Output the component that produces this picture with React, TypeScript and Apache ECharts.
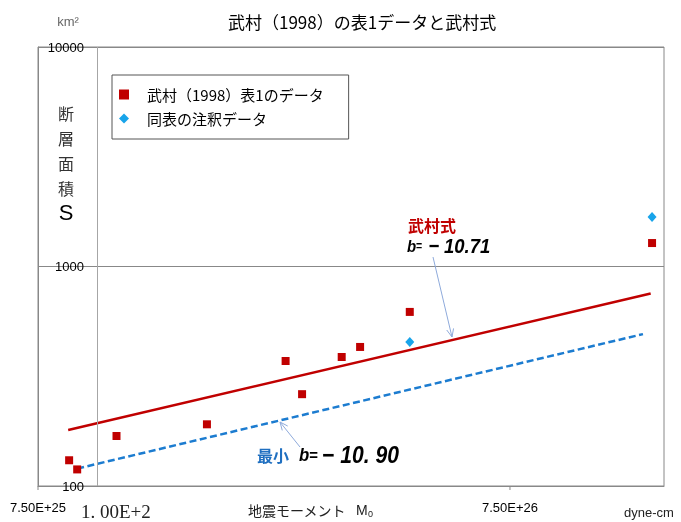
import React, { useEffect, useRef } from 'react';
import * as echarts from 'echarts';

// ---- data ----
const seriesNames = ['武村（1998）表1のデータ', '同表の注釈データ'];
const tableM0 = [8.73e25, 9.08e25, 1.1e26, 1.71e26, 2.51e26, 2.72e26, 3.3e26, 3.61e26, 4.6e26, 1.5e27];
const tableS = [131, 119, 169, 191, 371, 262, 387, 430, 621, 1279];
const noteM0 = [4.6e26, 1.5e27];
const noteS = [453, 1681];
const takemuraM0 = [8.69e25, 1.49e27];
const takemuraS = [180, 753];
const minimumM0 = [9.08e25, 1.435e27];
const minimumS = [120, 492];
const xMin = 7.5e25;
const xMax = 1.59e27;
const yMin = 100;
const yMax = 10000;
const xTickValues = [7.5e25, 7.5e26];
const xTickLabels = ['7.50E+25', '7.50E+26'];
const xGridValues = [1e26];

const jp = "'Noto Sans CJK JP', 'Noto Sans', sans-serif";
const sans = "'Liberation Sans', Arial, sans-serif";

function arrow(x1: number, y1: number, x2: number, y2: number, color: string) {
  const dx = x2 - x1;
  const dy = y2 - y1;
  const len = Math.sqrt(dx * dx + dy * dy);
  const ux = dx / len;
  const uy = dy / len;
  const nx = -uy;
  const ny = ux;
  const L = 8;
  const W = 3.5;
  const bx = x2 - ux * L;
  const by = y2 - uy * L;
  return [
    { type: 'line', silent: true, shape: { x1, y1, x2, y2 }, style: { stroke: color, lineWidth: 1 } },
    {
      type: 'polyline',
      silent: true,
      shape: { points: [[bx + nx * W, by + ny * W], [x2, y2], [bx - nx * W, by - ny * W]] },
      style: { stroke: color, lineWidth: 1, fill: 'none' },
    },
  ];
}

function txt(x: number, y: number, text: string, s: any) {
  return {
    type: 'text',
    x,
    y,
    silent: true,
    style: {
      text,
      fill: '#000',
      align: s.align || 'left',
      textAlign: s.align || 'left',
      verticalAlign: 'middle',
      textVerticalAlign: 'middle',
      ...s,
    },
  };
}

function formula(x: number, y: number, text: string, bSize: number, eSize: number, nSize: number, sx: number) {
  return {
    type: 'text',
    x,
    y,
    scaleX: sx,
    silent: true,
    style: {
      text,
      verticalAlign: 'middle',
      textVerticalAlign: 'middle',
      rich: {
        b: { fontSize: bSize, fontWeight: 'bold', fontStyle: 'italic', fontFamily: sans, fill: '#000', color: '#000' },
        e: { fontSize: eSize, fontWeight: 'bold', fontFamily: sans, fill: '#000', color: '#000' },
        n: { fontSize: nSize, fontWeight: 'bold', fontStyle: 'italic', fontFamily: sans, fill: '#000', color: '#000' },
      },
    },
  };
}

export default function App() {
  const ref = useRef<HTMLDivElement>(null);
  useEffect(() => {
    if (!ref.current) return;
    const chart = echarts.init(ref.current, null, { renderer: 'svg' });
    const option: any = {
      animation: false,
      textStyle: { fontFamily: jp },
      title: {
        text: '武村（1998）の表1データと武村式',
        left: 228,
        top: 13,
        padding: 0,
        textStyle: { fontSize: 17, fontWeight: 'normal', color: '#000', fontFamily: jp },
      },
      legend: {
        orient: 'vertical',
        left: 112,
        top: 75,
        selectedMode: false,
        backgroundColor: '#fff',
        borderColor: '#555',
        borderWidth: 1,
        padding: [12, 25, 13, 7],
        itemWidth: 10,
        itemHeight: 10,
        itemGap: 9,
        textStyle: { fontSize: 15, lineHeight: 14, color: '#000', fontFamily: jp, padding: [0, 0, 0, 13] },
        data: [
          { name: seriesNames[0], icon: 'rect' },
          { name: seriesNames[1], icon: 'diamond' },
        ],
      },
      grid: { left: 38, top: 47, right: 17, bottom: 36, show: true, borderColor: '#888', borderWidth: 1 },
      xAxis: {
        type: 'log',
        logBase: 10,
        min: xMin,
        max: xMax,
        axisLine: { show: true, lineStyle: { color: '#888' } },
        axisTick: { show: false },
        axisLabel: { show: false },
        splitLine: { show: false },
      },
      yAxis: {
        type: 'log',
        logBase: 10,
        min: yMin,
        max: yMax,
        axisLine: { show: true, lineStyle: { color: '#888' } },
        axisTick: { show: false },
        axisLabel: {
          inside: true,
          align: 'right',
          margin: 46,
          fontSize: 13,
          color: '#000',
          fontFamily: sans,
          showMinLabel: true,
          showMaxLabel: true,
          formatter: (v: number) => String(Math.round(v)),
        },
        splitLine: { show: true, lineStyle: { color: '#888', width: 1 } },
      },
      series: [
        {
          name: 'takemura',
          type: 'line',
          data: takemuraM0.map((m, i) => [m, takemuraS[i]]),
          symbol: 'none',
          showSymbol: false,
          silent: true,
          lineStyle: { color: '#C00000', width: 2.5 },
          itemStyle: { color: '#C00000' },
          z: 3,
        },
        {
          name: 'minimum',
          type: 'line',
          data: minimumM0.map((m, i) => [m, minimumS[i]]),
          symbol: 'none',
          showSymbol: false,
          silent: true,
          lineStyle: { color: '#1C7CD0', width: 2.5, type: [7, 3.5] },
          itemStyle: { color: '#1C7CD0' },
          z: 3,
        },
        {
          name: seriesNames[0],
          type: 'scatter',
          symbol: 'rect',
          symbolSize: 8,
          itemStyle: { color: '#C00000', opacity: 1 },
          data: tableM0.map((m, i) => [m, tableS[i]]),
          z: 4,
          markLine: {
            silent: true,
            symbol: 'none',
            label: { show: false },
            lineStyle: { color: '#a6a6a6', width: 1, type: 'solid' },
            data: xGridValues.map((v) => ({ xAxis: v })),
          },
        },
        {
          name: seriesNames[1],
          type: 'scatter',
          symbol: 'diamond',
          symbolSize: [9, 10],
          itemStyle: { color: '#18A4EA', opacity: 1 },
          data: noteM0.map((m, i) => [m, noteS[i]]),
          z: 4,
        },
      ],
    };
    chart.setOption(option);

    const xPx = (v: number) => chart.convertToPixel({ xAxisIndex: 0 } as any, v) as unknown as number;
    const yPx = (v: number) => chart.convertToPixel({ yAxisIndex: 0 } as any, v) as unknown as number;
    const bottom = yPx(yMin);
    const g: any[] = [];
    xTickValues.forEach((v, i) => {
      const x = xPx(v);
      g.push({ type: 'line', silent: true, shape: { x1: x, y1: bottom, x2: x, y2: bottom + 4 }, style: { stroke: '#888', lineWidth: 1 } });
      g.push(txt(x, bottom + 21, xTickLabels[i], { align: 'center', fontSize: 13, fontFamily: sans }));
    });
    // axis titles and units
    g.push(txt(68, 21, 'km²', { align: 'center', fontSize: 13, fontFamily: sans, fill: '#666' }));
    g.push({
      type: 'text',
      x: 66,
      y: 100,
      silent: true,
      style: { text: '断\n層\n面\n積', fontSize: 16, lineHeight: 25, fontFamily: jp, fill: '#333', align: 'center', textAlign: 'center' },
    });
    g.push(txt(66, 212, 'S', { align: 'center', fontSize: 22, fontFamily: sans }));
    g.push(txt(248, 510, '地震モーメント', { fontSize: 14, fontFamily: jp, fill: '#222' }));
    g.push(txt(356, 510, 'M', { fontSize: 14, fontFamily: sans, fill: '#222' }));
    g.push(txt(368, 514, '0', { fontSize: 9, fontFamily: sans, fill: '#222' }));
    g.push(txt(649, 512, 'dyne-cm', { align: 'center', fontSize: 13, fontFamily: sans, fill: '#222' }));
    g.push(txt(81, 511, '1. 00E+2', { fontSize: 19, fontFamily: "'Liberation Serif', 'DejaVu Serif', serif", fill: '#222' }));
    // annotations
    g.push(txt(408, 225, '武村式', { fontSize: 16, fontWeight: 'bold', fontFamily: jp, fill: '#C00000' }));
    g.push(formula(407, 246, '{b|b}{e|=  }{n|− 10.71}', 17, 12, 21, 0.88));
    g.push(...arrow(433, 257, 452, 337, '#8EAADB'));
    g.push(txt(257, 455, '最小', { fontSize: 16, fontWeight: 'bold', fontFamily: jp, fill: '#1F6FC0' }));
    g.push(formula(299, 455, '{b|b}{e|= }{n|− 10. 90}', 19, 17, 24, 0.88));
    g.push(...arrow(300, 447, 280, 422, '#8EAADB'));
    chart.setOption({ graphic: g });
    return () => chart.dispose();
  }, []);
  return <div ref={ref} style={{ position: 'fixed', left: 0, top: 0, width: 681, height: 522 }} />;
}
